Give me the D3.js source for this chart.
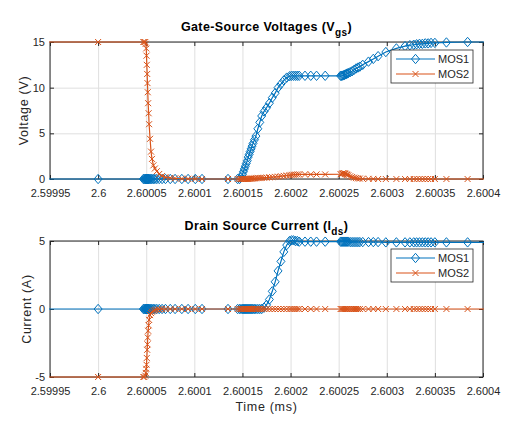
<!DOCTYPE html>
<html>
<head>
<meta charset="utf-8">
<script src="https://cdn.jsdelivr.net/npm/d3@7"></script>
<style>
body{margin:0;background:#fff;}
text{font-family:"Liberation Sans",Arial,sans-serif;fill:#262626;}
</style>
</head>
<body>
<script>
// tick labels
var xTickLabels=["2.59995","2.6","2.60005","2.6001","2.60015","2.6002","2.60025","2.6003","2.60035","2.6004"];
var vTicks=[0,5,10,15];
var iTicks=[-5,0,5];
var seriesNames=["MOS1","MOS2"];

// simulation time steps (ms), shared by all four traces
var timeMs=[2.5999,2.6,
  2.600047,2.600048,2.600049,2.6000495,2.60005,2.6000503,2.6000506,2.600051,2.6000513,2.6000516,
  2.600052,2.6000525,2.600053,2.600054,2.600055,2.600056,2.6000575,2.600059,2.600061,2.6000635,
  2.6000665,2.60007,2.600075,2.60008,2.600087,2.6000935,2.600101,2.600108,2.600135,
  2.600145,2.600147,2.6001485,2.60015,2.600151,2.600152,2.600153,2.600154,2.600155,2.600156,
  2.600157,2.600158,2.600159,2.60016,2.600161,2.6001625,2.600164,2.600166,2.600168,2.60017,
  2.6001725,2.600175,2.600178,2.600181,2.600184,2.600187,2.60019,2.600193,2.600196,2.600199,
  2.600201,2.600203,2.600205,2.600207,2.600209,2.600215,2.600221,2.600227,2.600236,
  2.600252,2.600253,2.600254,2.600255,2.600256,2.600257,2.600258,2.600259,2.60026,
  2.600262,2.600264,2.600266,2.600268,2.60027,2.600272,2.600275,2.600281,2.600286,2.600291,
  2.600299,2.60031,2.600319,2.600324,2.600328,2.600331,2.600334,2.600337,2.60034,2.600343,
  2.600346,2.60035,2.600362,2.600384,2.60042];

// gate-source voltages (V)
var mos1Vgs=[0,0,
  0,0,0,0,0,0,0,0,0,0,
  0,0,0,0,0,0,0,0,0,0,
  0,0,0,0,0,0,0,0,0,
  0,0,0.2,0.5,0.8,1.1,1.4,1.7,2.0,2.4,
  2.7,3.0,3.3,3.6,3.9,4.3,4.7,5.5,6.2,6.9,
  7.4,7.8,8.3,8.9,9.4,10.0,10.4,10.8,11.1,11.25,
  11.3,11.3,11.3,11.3,11.3,11.3,11.3,11.3,11.3,
  11.3,11.3,11.32,11.35,11.4,11.45,11.5,11.55,11.6,
  11.7,11.8,11.95,12.1,12.2,12.3,12.5,12.85,13.15,13.45,
  13.9,14.3,14.55,14.65,14.7,14.75,14.8,14.8,14.85,14.85,
  14.9,14.9,14.95,15,15];
var mos2Vgs=[15,15,
  15,15,15,14.8,14.3,13.5,12.5,11.5,10.5,9.5,
  8.3,7.2,6.0,4.4,3.0,2.2,1.5,1.15,0.85,0.55,
  0.33,0.2,0.12,0.07,0.03,0.02,0.01,0,0,
  0,0,0,0,0,0,0,0,0,0,
  0.02,0.03,0.04,0.05,0.06,0.07,0.08,0.1,0.1,0.12,
  0.14,0.16,0.18,0.2,0.23,0.26,0.3,0.34,0.38,0.42,
  0.45,0.47,0.48,0.5,0.5,0.5,0.5,0.5,0.5,
  0.52,0.55,0.6,0.65,0.62,0.58,0.52,0.46,0.4,
  0.3,0.22,0.15,0.1,0.07,0.05,0.03,0.02,0.01,0,
  0,0,0,0,0,0,0,0,0,0,
  0,0,0,0,0];

// drain-source currents (A)
var mos1Ids=[0,0,
  0,0,0,0,0,0,0,0,0,0,
  0,0,0,0,0,0,0,0,0,0,
  0,0,0,0,0,0,0,0,0,
  0,0,0,0,0,0,0,0,0,0,
  0,0,0,0,0,0,0,0,0,0,
  0.1,0.3,0.7,1.3,2.0,2.8,3.5,4.2,4.7,5.0,
  5.05,5.05,5.0,5.0,4.95,4.95,4.95,4.95,4.95,
  4.95,4.95,4.95,4.95,4.95,4.95,4.95,4.95,4.95,
  4.92,4.92,4.92,4.92,4.92,4.92,4.92,4.92,4.92,4.92,
  4.9,4.9,4.9,4.9,4.9,4.9,4.9,4.9,4.9,4.9,
  4.9,4.9,4.9,4.9,4.9];
var mos2Ids=[-5,-5,
  -5,-5,-4.9,-4.7,-4.4,-4.1,-3.6,-3.0,-2.6,-2.1,
  -1.6,-1.2,-0.8,-0.45,-0.3,-0.2,-0.12,-0.07,-0.04,-0.02,
  0,0,0,0,0,0,0,0,0,
  0,0,0,0,0,0,0,0,0,0,
  0,0,0,0,0,0,0,0,0,0,
  0,0,0,0,0,0,0,0,0,0,
  0,0,0,0,0,0,0,0,0,
  0,0,0,0,0,0,0,0,0,
  0,0,0,0,0,0,0,0,0,0,
  0,0,0,0,0,0,0,0,0,0,
  0,0,0,0,0];

var colors=["#0072BD","#D95319"];
var diamond="M0,-4.7L4,0L0,4.7L-4,0Z";
var cross="M-3,-3L3,3M-3,3L3,-3";
var markers=[diamond,cross];

var svg=d3.select("body").append("svg").attr("width",526).attr("height",422);

var left=50, right=483;
var x=d3.scaleLinear().domain([+xTickLabels[0],+xTickLabels[xTickLabels.length-1]]).range([left,right]);

function panel(id,top,bottom,yDomain,yTicks,titleMain,titleSub,yLabel,yLabelX,values){
  var y=d3.scaleLinear().domain(yDomain).range([bottom,top]);
  var g=svg.append("g");

  // grid
  g.append("g").attr("transform","translate(0,"+bottom+")")
    .call(d3.axisBottom(x).tickValues(xTickLabels.map(Number)).tickSize(-(bottom-top)).tickFormat(""))
    .call(function(s){s.select(".domain").remove(); s.selectAll("line").attr("stroke","#dfdfdf");});
  g.append("g").attr("transform","translate("+left+",0)")
    .call(d3.axisLeft(y).tickValues(yTicks).tickSize(-(right-left)).tickFormat(""))
    .call(function(s){s.select(".domain").remove(); s.selectAll("line").attr("stroke","#dfdfdf");});

  // box
  g.append("rect").attr("x",left).attr("y",top).attr("width",right-left).attr("height",bottom-top)
    .attr("fill","none").attr("stroke","#262626").attr("stroke-width",1);

  // ticks inside, labels outside
  var xa=g.append("g").attr("transform","translate(0,"+bottom+")")
    .call(d3.axisBottom(x).tickValues(xTickLabels.map(Number)).tickSizeInner(-4).tickSizeOuter(0).tickPadding(10)
      .tickFormat(function(d,i){return xTickLabels[i];}));
  g.append("g").attr("transform","translate(0,"+top+")")
    .call(d3.axisTop(x).tickValues(xTickLabels.map(Number)).tickSizeInner(-4).tickSizeOuter(0).tickFormat(""));
  var ya=g.append("g").attr("transform","translate("+left+",0)")
    .call(d3.axisLeft(y).tickValues(yTicks).tickSizeInner(-4).tickSizeOuter(0).tickPadding(5).tickFormat(function(d){return String(d);}));
  g.append("g").attr("transform","translate("+right+",0)")
    .call(d3.axisRight(y).tickValues(yTicks).tickSizeInner(-4).tickSizeOuter(0).tickFormat(""));
  g.selectAll(".domain").remove();
  g.selectAll(".tick line").filter(function(){return d3.select(this).attr("stroke")!="#dfdfdf";}).attr("stroke","#262626");
  xa.selectAll("text").attr("font-size",11).attr("fill","#262626");
  ya.selectAll("text").attr("font-size",11).attr("fill","#262626");
  xa.attr("font-family",null); ya.attr("font-family",null);

  // title with subscript
  var t=g.append("text").attr("x",(left+right)/2).attr("y",top-11).attr("text-anchor","middle")
    .attr("font-size",12.5).attr("letter-spacing",0.4).attr("font-weight","bold").style("fill","#000");
  t.append("tspan").text(titleMain);
  t.append("tspan").attr("dy",5).attr("font-size",10).text(titleSub);
  t.append("tspan").attr("dy",-5).text(")");

  // y label
  g.append("text").attr("transform","translate("+yLabelX+","+((top+bottom)/2)+") rotate(-90)")
    .attr("text-anchor","middle").attr("font-size",12.5).attr("letter-spacing",0.7).text(yLabel);

  // data
  svg.append("clipPath").attr("id","clip"+id).append("rect")
    .attr("x",left-1).attr("y",top-1.5).attr("width",right-left+2).attr("height",bottom-top+3);
  var line=d3.line().x(function(d){return x(d[0]);}).y(function(d){return y(d[1]);});
  values.forEach(function(vals,k){
    var pts=timeMs.map(function(t,i){return [t,vals[i]];});
    g.append("path").datum(pts).attr("clip-path","url(#clip"+id+")")
      .attr("d",line).attr("fill","none").attr("stroke",colors[k]).attr("stroke-width",1.2);
    g.append("g").selectAll("path")
      .data(pts.filter(function(d){return d[0]>=x.domain()[0] && d[0]<=x.domain()[1];}))
      .enter().append("path")
      .attr("transform",function(d){return "translate("+x(d[0])+","+y(d[1])+")";})
      .attr("d",markers[k]).attr("fill","none").attr("stroke",colors[k]).attr("stroke-width",1);
  });

  // legend
  var lg=g.append("g").attr("transform","translate(391,"+(top+8)+")");
  lg.append("rect").attr("width",82).attr("height",33).attr("fill","#fff").attr("stroke","#262626").attr("stroke-width",0.8);
  seriesNames.forEach(function(n,k){
    var ly=9+k*15;
    lg.append("line").attr("x1",5).attr("x2",44).attr("y1",ly).attr("y2",ly).attr("stroke",colors[k]).attr("stroke-width",1.2);
    lg.append("path").attr("transform","translate(24.5,"+ly+")").attr("d",markers[k])
      .attr("fill","none").attr("stroke",colors[k]).attr("stroke-width",1);
    lg.append("text").attr("x",47).attr("y",ly+4).attr("font-size",11).text(n);
  });
}

panel(1,42,179,[0,15],vTicks,"Gate-Source Voltages (V","gs","Voltage (V)",28,[mos1Vgs,mos2Vgs]);
panel(2,241,377,[-5,5],iTicks,"Drain Source Current (I","ds","Current (A)",31,[mos1Ids,mos2Ids]);

svg.append("text").attr("x",266.5).attr("y",411).attr("text-anchor","middle").attr("font-size",12.5).attr("letter-spacing",0.7).text("Time (ms)");
</script>
</body>
</html>
